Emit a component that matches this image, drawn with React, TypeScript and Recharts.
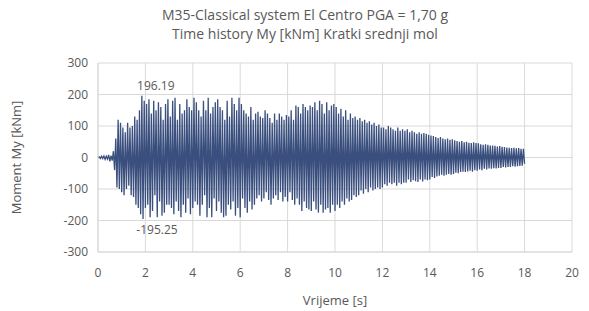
import { CartesianGrid, Line, LineChart, ReferenceDot, XAxis, YAxis } from 'recharts'

const TIME_STEP = 0.05 // s, one half-cycle peak per step

// moment My [kNm], peak values, one row per second
const moment = [
  0, 2, -3, 4, -3, 5, -6, 4, -5, 8, -12, 6, -10, 20, -40, 60, -95, 120, -100, 110,
  -110, 95, -120, 80, -100, 110, -90, 95, -120, 100, -125, 130, -150, 120, -160, 150, -180, 196.19, -195.25, 180,
  -160, 170, -150, 185, -190, 140, -170, 180, -120, 150, -190, 175, -140, 160, -185, 120, -175, 170, -150, 185,
  -150, 130, -160, 180, -180, 190, -140, 120, -170, 170, -190, 140, -150, 150, -175, 185, -130, 160, -180, 150,
  -160, 190, -140, 175, -150, 150, -185, 130, -150, 180, -120, 150, -190, 190, -160, 140, -190, 160, -130, 175,
  -170, 185, -140, 160, -175, 150, -190, 120, -185, 180, -150, 130, -165, 190, -140, 170, -185, 150, -160, 190,
  -190, 170, -130, 150, -160, 140, -175, 130, -140, 160, -165, 120, -150, 140, -130, 145, -120, 130, -140, 125,
  -130, 150, -110, 140, -135, 125, -150, 110, -130, 140, -120, 120, -135, 140, -110, 130, -140, 120, -125, 135,
  -140, 130, -110, 150, -135, 120, -150, 165, -130, 160, -150, 140, -170, 170, -140, 160, -160, 150, -165, 165,
  -170, 160, -140, 175, -165, 150, -175, 180, -150, 170, -175, 140, -165, 175, -160, 150, -175, 165, -150, 170,
  -170, 160, -150, 140, -160, 155, -140, 130, -150, 150, -130, 120, -140, 140, -135, 125, -120, 130, -125, 120,
  -120, 125, -105, 115, -115, 120, -100, 110, -110, 115, -95, 105, -105, 110, -100, 100, -95, 105, -100, 95,
  -95, 95, -85, 90, -90, 100, -80, 95, -85, 90, -80, 85, -90, 95, -80, 85, -85, 90, -80, 85,
  -80, 90, -70, 80, -78, 85, -72, 80, -75, 75, -78, 80, -70, 75, -76, 78, -70, 75, -72, 72,
  -70, 70, -62, 68, -65, 65, -60, 62, -58, 65, -55, 60, -58, 58, -55, 60, -52, 56, -55, 58,
  -52, 55, -48, 52, -50, 50, -46, 52, -45, 48, -46, 50, -44, 47, -42, 46, -45, 48, -40, 46,
  -42, 45, -38, 42, -40, 40, -36, 42, -38, 40, -35, 38, -36, 38, -34, 37, -35, 35, -33, 36,
  -33, 34, -30, 33, -32, 32, -30, 31, -30, 30, -28, 31, -29, 29, -28, 30, -27, 28, -26, 28,
  -20,
]

const xTicks = [0, 2, 4, 6, 8, 10, 12, 14, 16, 18, 20]
const yTicks = [-300, -200, -100, 0, 100, 200, 300]

const maxPeak = { t: 1.85, value: 196.19 }
const minPeak = { t: 1.9, value: -195.25 }

const data = moment.map((m, i) => ({ t: Math.round(i * TIME_STEP * 100) / 100, m }))

const FONT = '"Open Sans", sans-serif'
const GREY = '#595959'

export default function App() {
  return (
    <div style={{ position: 'absolute', left: 0, top: 0, width: 589, height: 311, background: '#fff', fontFamily: FONT }}>
      <div
        style={{
          position: 'absolute',
          left: 0,
          width: 610,
          top: 5,
          textAlign: 'center',
          fontSize: 14,
          lineHeight: '19px',
          color: GREY,
        }}
      >
        M35-Classical system El Centro PGA = 1,70 g
        <br />
        Time history My [kNm] Kratki srednji mol
      </div>
      <LineChart width={589} height={311} data={data} margin={{ top: 63, right: 17, bottom: 0, left: 0 }}>
        <CartesianGrid stroke="#d9d9d9" />
        <XAxis
          dataKey="t"
          type="number"
          domain={[0, 20]}
          ticks={xTicks}
          height={59}
          tickLine={false}
          tickMargin={10}
          stroke="#d9d9d9"
          tick={{ fill: GREY, fontSize: 12, fontFamily: FONT }}
          label={{ value: 'Vrijeme [s]', position: 'insideBottom', offset: 6, fill: GREY, fontSize: 13, fontFamily: FONT }}
        />
        <YAxis
          type="number"
          domain={[-300, 300]}
          ticks={yTicks}
          width={98}
          tickLine={false}
          tickMargin={4}
          stroke="#d9d9d9"
          tick={{ fill: GREY, fontSize: 12, fontFamily: FONT }}
          label={{ value: 'Moment My [kNm]', angle: -90, position: 'insideLeft', offset: 16, fill: GREY, fontSize: 13, fontFamily: FONT, style: { textAnchor: 'middle' } }}
        />
        <Line type="linear" dataKey="m" stroke="#3a4f7e" strokeWidth={1.3} dot={false} isAnimationActive={false} />
        <ReferenceDot
          x={maxPeak.t}
          y={maxPeak.value}
          r={0}
          stroke="none"
          label={{ value: String(maxPeak.value), position: 'top', dx: 14, offset: 6, fill: GREY, fontSize: 12, fontFamily: FONT }}
        />
        <ReferenceDot
          x={minPeak.t}
          y={minPeak.value}
          r={0}
          stroke="none"
          label={{ value: String(minPeak.value), position: 'bottom', dx: 14, offset: 6, fill: GREY, fontSize: 12, fontFamily: FONT }}
        />
      </LineChart>
    </div>
  )
}
